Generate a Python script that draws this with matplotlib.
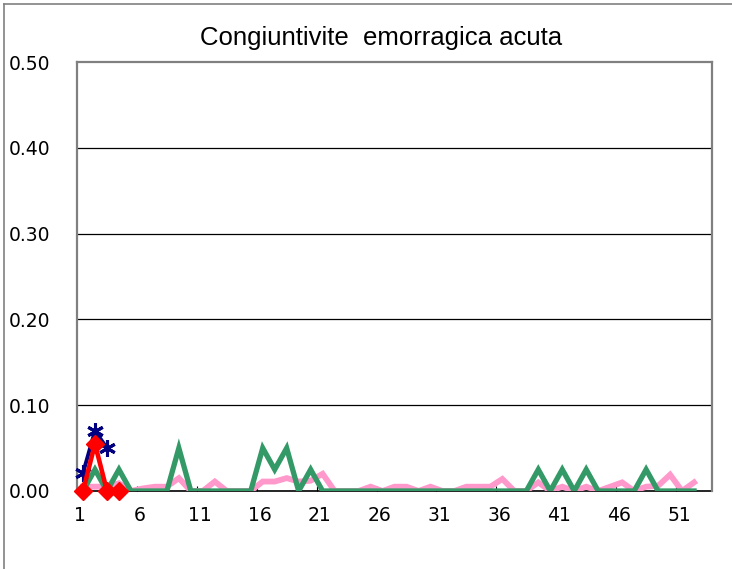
import matplotlib.pyplot as plt
import numpy as np
from matplotlib.lines import Line2D

# --- Données (settimane 1-52) ---
settimane = np.arange(1, 53)

serie_rosa = [0.005, 0.005, 0.005, 0.009, 0, 0.003, 0.005, 0.005, 0.015, 0,
              0, 0.011, 0, 0, 0, 0.011, 0.011, 0.015, 0.011, 0.012,
              0.02, 0, 0, 0, 0.005, 0, 0.005, 0.005, 0, 0.005,
              0, 0, 0.005, 0.005, 0.005, 0.014, 0, 0, 0.01, 0,
              0.005, 0, 0.005, 0, 0.005, 0.01, 0, 0.005, 0.006, 0.019,
              0, 0.01]

serie_verde = [0, 0.025, 0, 0.025, 0, 0, 0, 0, 0.05, 0,
               0, 0, 0, 0, 0, 0.05, 0.025, 0.05, 0, 0.025,
               0, 0, 0, 0, 0, 0, 0, 0, 0, 0,
               0, 0, 0, 0, 0, 0, 0, 0, 0.025, 0,
               0.025, 0, 0.025, 0, 0, 0, 0, 0.025, 0, 0,
               0, 0]

settimane_blu = [1, 2, 3]
serie_blu = [0.021, 0.07, 0.05]

settimane_rosso = [1, 2, 3, 4]
serie_rossa = [0, 0.055, 0, 0]

etichette_x = [1, 6, 11, 16, 21, 26, 31, 36, 41, 46, 51]
etichette_y = [0.0, 0.1, 0.2, 0.3, 0.4, 0.5]

# --- Figura ---
fig = plt.figure(figsize=(7.32, 5.69), dpi=100)
ax = fig.add_axes([0.1052, 0.1371, 0.9727 - 0.1052, 0.891 - 0.1371])

# Cornice dell'area grafico (solo lati alto e sinistro visibili)
fig.add_artist(Line2D([0.006, 0.006], [0, 0.993], color='#808080', lw=1.2))
fig.add_artist(Line2D([0.006, 1], [0.993, 0.993], color='#808080', lw=1.2))

# Serie
ax.plot(settimane, serie_rosa, color='#ff99cc', lw=4.2, zorder=3, solid_joinstyle='miter')
ax.plot(settimane_blu, serie_blu, color='#000080', lw=2.8, marker=(6, 2, 0),
        markersize=12, markeredgewidth=2.2, zorder=4, clip_on=False)
ax.plot(settimane, serie_verde, color='#339966', lw=3.8, zorder=5, solid_joinstyle='miter')
ax.plot(settimane_rosso, serie_rossa, color='#ff0000', lw=3.3, marker='D',
        markersize=9, zorder=6, clip_on=False)

# Limiti
ax.set_xlim(0.5, 53.5)
ax.set_ylim(0, 0.5)

# Griglia orizzontale
for v in etichette_y[1:-1]:
    ax.axhline(v, color='black', lw=0.9, zorder=1)

# Assi
ax.set_yticks(etichette_y)
ax.set_yticklabels([f"{v:.2f}" for v in etichette_y])
ax.tick_params(axis='y', length=0, pad=19, labelsize=13.5)

# tacche tra le categorie, etichette al centro
ax.set_xticks(np.arange(0.5, 51, 5))
ax.set_xticklabels([])
ax.tick_params(axis='x', which='major', direction='in', length=3.5, color='black')
ax.set_xticks([v - 0.25 for v in etichette_x], minor=True)
ax.set_xticklabels([str(v) for v in etichette_x], minor=True)
ax.tick_params(axis='x', which='minor', length=0, pad=11, labelsize=13.5)

for lato in ['left', 'top', 'right']:
    ax.spines[lato].set_color('#808080')
    ax.spines[lato].set_linewidth(1.6)
ax.spines['bottom'].set_color('black')
ax.spines['bottom'].set_linewidth(1.2)
ax.spines['bottom'].set_zorder(2)

fig.text(0.52, 0.934, "Congiuntivite  emorragica acuta", ha='center', va='center',
         fontsize=18.5, family='Liberation Sans')

fig.savefig("out.png", dpi=100)
